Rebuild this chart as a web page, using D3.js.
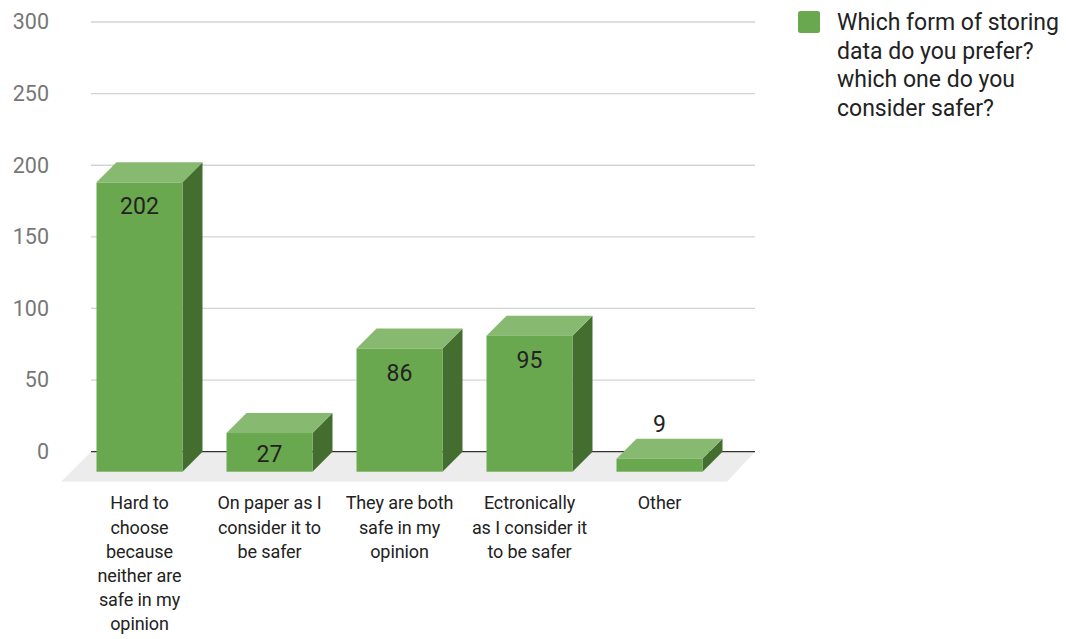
<!DOCTYPE html>
<html>
<head>
<meta charset="utf-8">
<script src="https://cdn.jsdelivr.net/npm/d3@7"></script>
<style>
  html, body { margin: 0; padding: 0; background: #fff; }
  svg { display: block; }
  text { font-family: Roboto, "Noto Sans", sans-serif; }
</style>
</head>
<body>
<svg id="chart" width="1066" height="639"></svg>
<script>
const categories = [
  ["Hard to", "choose", "because", "neither are", "safe in my", "opinion"],
  ["On paper as I", "consider it to", "be safer"],
  ["They are both", "safe in my", "opinion"],
  ["Ectronically", "as I consider it", "to be safer"],
  ["Other"]
];
const values = [202, 27, 86, 95, 9];
const yTicks = [0, 50, 100, 150, 200, 250, 300];
const seriesName = ["Which form of storing", "data do you prefer?", "which one do you", "consider safer?"];

const svg = d3.select("#chart");

// back plane geometry
const plotLeft = 91, plotRight = 755;
const y = d3.scaleLinear().domain([0, 300]).range([451.7, 22]);
const depthX = 20, depthY = 20;     // bar depth
const floorD = 30;                  // floor depth

const keys = categories.map((c, i) => "c" + i);
// band scale in the front plane of the bars
const x = d3.scaleBand().domain(keys).range([70.5, 728.5]).paddingInner(0.3385).paddingOuter(0.2);

const colFront = "#6aa84f", colTop = "#87ba70", colSide = "#436e30";

// floor
const y0 = y(0);
svg.append("polygon")
  .attr("points", [[plotLeft, y0], [plotRight, y0], [plotRight - floorD + 2, y0 + floorD], [plotLeft - floorD, y0 + floorD]].map(p => p.join(",")).join(" "))
  .attr("fill", "#ececec");

// gridlines
svg.append("g").selectAll("line").data(yTicks.filter(t => t !== 0)).join("line")
  .attr("x1", plotLeft).attr("x2", plotRight)
  .attr("y1", d => y(d)).attr("y2", d => y(d))
  .attr("stroke", "#d4d4d4").attr("stroke-width", 1.3);

// zero line
svg.append("line")
  .attr("x1", plotLeft).attr("x2", plotRight).attr("y1", y0).attr("y2", y0)
  .attr("stroke", "#333").attr("stroke-width", 1.3);

// y axis labels via d3 axis
const yAxis = svg.append("g").attr("transform", `translate(49,0)`)
  .call(d3.axisLeft(y).tickValues(yTicks).tickSize(0).tickPadding(0));
yAxis.select(".domain").remove();
yAxis.selectAll("text").attr("font-size", 21.5).attr("fill", "#777").attr("font-family", "Roboto, sans-serif");

// bars
const bars = svg.append("g").selectAll("g").data(values.map((v, i) => ({ v, k: keys[i], i }))).join("g");
bars.each(function (d) {
  const g = d3.select(this);
  const xl = x(d.k), xr = xl + x.bandwidth();
  const yb = y(0) + depthY, yt = y(d.v) + depthY;
  const h = yb - yt;
  // side
  g.append("polygon")
    .attr("points", [[xr, yt], [xr + depthX, yt - depthY], [xr + depthX, yb - depthY], [xr, yb]].map(p => p.join(",")).join(" "))
    .attr("fill", colSide);
  // top
  g.append("polygon")
    .attr("points", [[xl, yt], [xl + depthX, yt - depthY], [xr + depthX, yt - depthY], [xr, yt]].map(p => p.join(",")).join(" "))
    .attr("fill", colTop);
  // front
  g.append("rect").attr("x", xl).attr("y", yt).attr("width", x.bandwidth()).attr("height", h)
    .attr("fill", colFront);
  // data label
  const inside = h > 30;
  g.append("text")
    .attr("x", xl + x.bandwidth() / 2)
    .attr("y", inside ? yt + Math.min(24, h / 2 + 1.5) : yt - depthY - 15)
    .attr("dy", "0.35em")
    .attr("text-anchor", "middle")
    .attr("font-size", 23).attr("fill", "#222")
    .text(d.v);
});

// x labels
const xl = svg.append("g").selectAll("text").data(categories.map((c, i) => ({ c, k: keys[i] }))).join("text")
  .attr("x", d => x(d.k) + x.bandwidth() / 2)
  .attr("y", 503)
  .attr("text-anchor", "middle")
  .attr("font-size", 18).attr("fill", "#222").attr("letter-spacing", -0.1);
xl.selectAll("tspan").data(d => d.c.map(t => ({ t, x: x(d.k) + x.bandwidth() / 2 }))).join("tspan")
  .attr("x", d => d.x).attr("dy", (d, i) => i === 0 ? "0.35em" : 24.2).text(d => d.t);

// legend
svg.append("rect").attr("x", 798).attr("y", 11).attr("width", 22).attr("height", 22).attr("rx", 2.5)
  .attr("fill", colFront);
svg.append("text").attr("x", 837).attr("y", 22).attr("font-size", 23).attr("fill", "#222")
  .selectAll("tspan").data(seriesName).join("tspan")
  .attr("x", 837).attr("dy", (d, i) => i === 0 ? "0.35em" : 28.5).text(d => d);
</script>
</body>
</html>
